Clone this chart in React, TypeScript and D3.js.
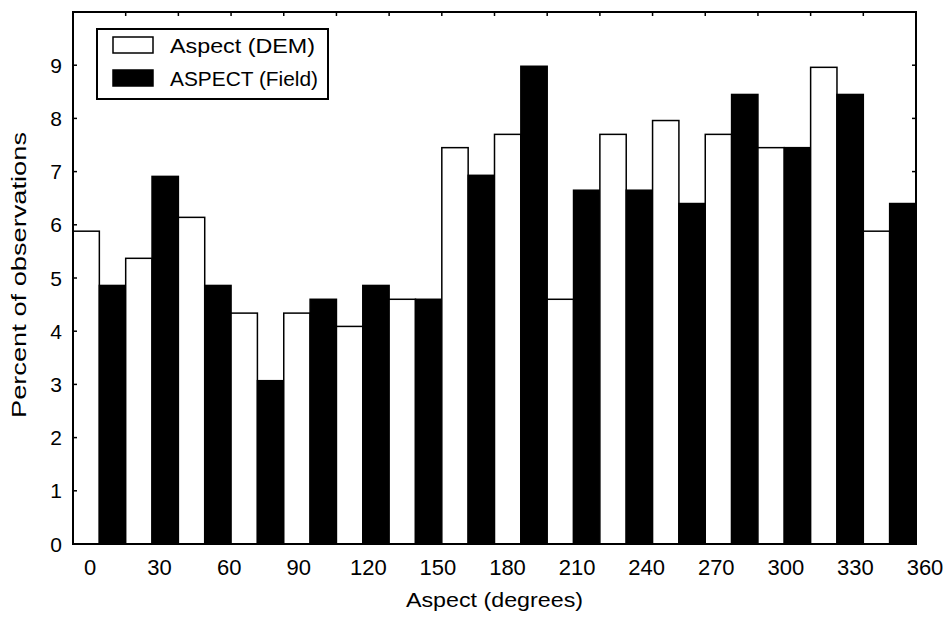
import React from "react";
import * as d3 from "d3";

const categories: number[] = [0, 22.5, 45, 67.5, 90, 112.5, 135, 157.5, 180, 202.5, 225, 247.5, 270, 292.5, 315, 337.5];
const demValues: number[] = [5.88, 5.37, 6.14, 4.34, 4.34, 4.09, 4.6, 7.45, 7.7, 4.6, 7.7, 7.96, 7.7, 7.45, 8.96, 5.88];
const fieldValues: number[] = [4.86, 6.91, 4.86, 3.07, 4.6, 4.86, 4.6, 6.93, 8.98, 6.65, 6.65, 6.4, 8.45, 7.45, 8.45, 6.4];
const seriesNames: string[] = ["Aspect (DEM)", "ASPECT (Field)"];
const seriesFill: string[] = ["#ffffff", "#000000"];
const xTickValues: number[] = [0, 30, 60, 90, 120, 150, 180, 210, 240, 270, 300, 330, 360];
const yTickValues: number[] = [0, 1, 2, 3, 4, 5, 6, 7, 8, 9];

const W = 949;
const H = 622;
const margin = { left: 73, right: 33, top: 12, bottom: 78 };
const FONT = "'Liberation Sans', Arial, Helvetica, sans-serif";
const legendTextLen: number[] = [145, 148];

export default function App() {
  const x = d3.scaleLinear().domain([0, 360]).range([margin.left, W - margin.right]);
  const y = d3.scaleLinear().domain([0, 10]).range([H - margin.bottom, margin.top]);
  const labelX = d3.scaleLinear().domain([0, 360]).range([x(0) + 17, x(360) + 9]);
  const step = 22.5;
  const sub = d3.scaleBand<number>().domain([0, 1]).range([0, x(step) - x(0)]).padding(0);
  const series = [demValues, fieldValues];
  const x0 = x(0), x1 = x(360), yTop = y(10), yBot = y(0);
  const tl = 4;

  const topTicks = d3.range(step, 360, step);

  return (
    <svg width={W} height={H} style={{ position: "absolute", left: 0, top: 0, background: "#fff" }} fontFamily={FONT}>
      {/* bars */}
      {categories.map((c, i) => (
        <g key={c}>
          {series.map((vals, s) => (
            <rect
              key={s}
              x={x(c) + (sub(s) as number)}
              y={y(vals[i])}
              width={sub.bandwidth()}
              height={y(0) - y(vals[i])}
              fill={seriesFill[s]}
              stroke="#000"
              strokeWidth={1.5}
            />
          ))}
        </g>
      ))}
      {/* frame */}
      <rect x={x0} y={yTop} width={x1 - x0} height={yBot - yTop} fill="none" stroke="#000" strokeWidth={2} />
      {/* y ticks */}
      {yTickValues.map((v) => (
        <g key={v}>
          <line x1={x0} x2={x0 + tl} y1={y(v)} y2={y(v)} stroke="#000" strokeWidth={1.5} />
          <line x1={x1} x2={x1 - tl} y1={y(v)} y2={y(v)} stroke="#000" strokeWidth={1.5} />
          <text x={x0 - 11} y={y(v)} dy="0.36em" textAnchor="end" fontSize={21} fill="#000">
            {v}
          </text>
        </g>
      ))}
      {/* top ticks */}
      {topTicks.map((v) => (
        <line key={v} x1={x(v)} x2={x(v)} y1={yTop} y2={yTop + tl} stroke="#000" strokeWidth={1.5} />
      ))}
      {/* x labels */}
      {xTickValues.map((v) => (
        <text key={v} x={labelX(v)} y={yBot + 31} textAnchor="middle" fontSize={22} fill="#000">
          {v}
        </text>
      ))}
      {/* axis titles */}
      <text
        x={(x0 + x1) / 2}
        y={yBot + 63}
        textAnchor="middle"
        fontSize={21}
        fill="#000"
        textLength={177}
        lengthAdjust="spacingAndGlyphs"
      >
        Aspect (degrees)
      </text>
      <text
        transform={`translate(26, ${(yTop + yBot) / 2 - 3}) rotate(-90)`}
        textAnchor="middle"
        fontSize={21}
        fill="#000"
        textLength={286}
        lengthAdjust="spacingAndGlyphs"
      >
        Percent of observations
      </text>
      {/* legend */}
      <g>
        <rect x={97} y={29} width={231} height={70} fill="#fff" stroke="#000" strokeWidth={2} />
        {seriesNames.map((n, s) => (
          <g key={n}>
            <rect x={113} y={37 + s * 33} width={40} height={16} fill={seriesFill[s]} stroke="#000" strokeWidth={1.5} />
            <text
              x={170}
              y={45 + s * 33}
              dy="0.36em"
              fontSize={21}
              fill="#000"
              textLength={legendTextLen[s]}
              lengthAdjust="spacingAndGlyphs"
            >
              {n}
            </text>
          </g>
        ))}
      </g>
    </svg>
  );
}
